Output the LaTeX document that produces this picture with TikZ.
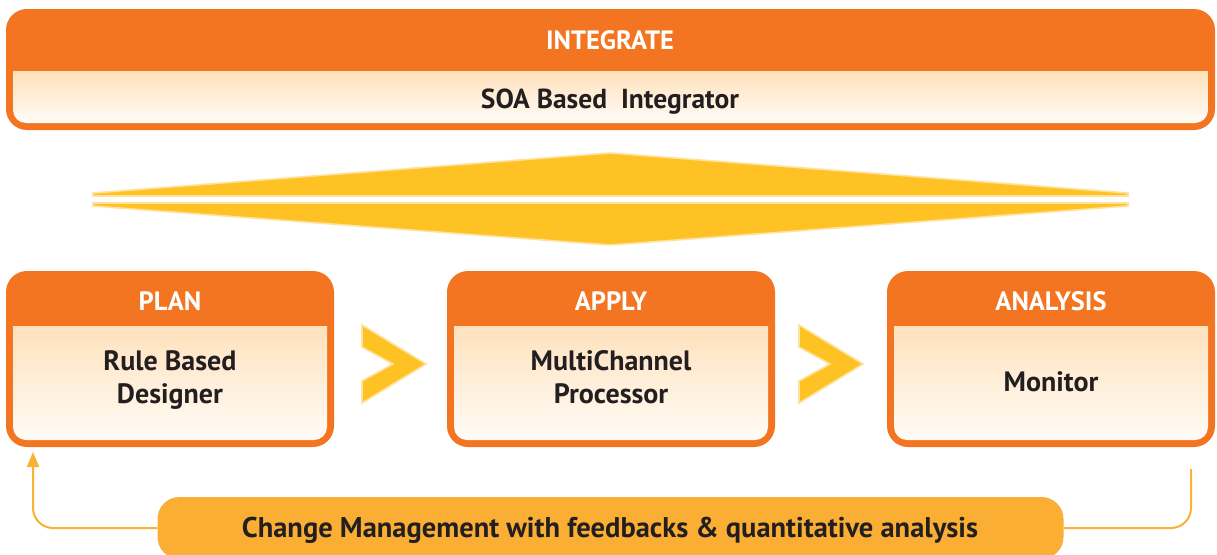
\documentclass[tikz,border=0pt]{standalone}
\usepackage{fontspec}
\setmainfont{PT Sans}
\usetikzlibrary{arrows.meta}
\definecolor{boxorange}{HTML}{F37521}
\definecolor{paletop}{HTML}{FFE1BC}
\definecolor{palebot}{HTML}{FFFCF7}
\definecolor{chevfill}{HTML}{FFC224}
\definecolor{chevedge}{HTML}{FFE39C}
\definecolor{barfill}{HTML}{FAAF34}
\definecolor{inkdark}{HTML}{231F20}
\definecolor{loopline}{HTML}{F9B233}

\tikzset{
  headtext/.style={text=white,font=\bfseries\fontsize{26.5}{30}\selectfont,anchor=base,inner sep=0pt},
  bodytext/.style={text=inkdark,font=\bfseries\fontsize{28}{33}\selectfont,align=center,anchor=base,inner sep=0pt},
  bartext/.style={text=inkdark,font=\bfseries\fontsize{28.5}{30}\selectfont,anchor=base,inner sep=0pt},
  chevron/.style={fill=chevfill,draw=chevedge,line width=1.6pt,line join=miter},
  feedback/.style={draw=loopline,line width=2pt,rounded corners=20pt},
  barbox/.style={fill=barfill,rounded corners=22pt,minimum width=906pt,minimum height=62pt,inner sep=0pt},
}

% orange framed panel: left, top, right, header bottom, bottom
\newcommand\drawpanel[5]{%
  \fill[boxorange,rounded corners=21pt] (#1,#2) rectangle (#3,#5);
  \shade[top color=paletop,bottom color=palebot]
    ({#1+7},#4) -- ({#3-7},#4) -- ({#3-7},{#5-20}) arc[start angle=0,end angle=90,radius=13]
    -- ({#1+20},{#5-7}) arc[start angle=90,end angle=180,radius=13] -- cycle;
}

\begin{document}
\begin{tikzpicture}[x=1pt,y=-1pt]
\clip (0,0) rectangle (1217,554);
\fill[white] (0,0) rectangle (1217,554);

% integration layer
\drawpanel{6}{9}{1215}{71}{130}
\node[headtext] (integrate) at (610,49) {INTEGRATE};
\node[headtext,text=inkdark,font=\bfseries\fontsize{27.5}{30}\selectfont] (soa) at (610,108) {SOA Based\ \ Integrator};

% two-way exchange between the layers
\draw[chevron] (93,196) -- (93,193) -- (610,153) -- (1128,193) -- (1128,196) -- cycle;
\draw[chevron] (93,203) -- (93,206) -- (610,245) -- (1128,206) -- (1128,203) -- cycle;

% process stages
\drawpanel{6}{271}{334}{326}{447}
\drawpanel{447}{271}{775}{326}{447}
\drawpanel{887}{271}{1215}{326}{447}

\node[headtext] (plan) at (170,310) {PLAN};
\node[headtext] (apply) at (611,310) {APPLY};
\node[headtext] (analysis) at (1051,310) {ANALYSIS};

\node[bodytext] (designer) at (170,403) {Rule Based\\Designer};
\node[bodytext] (processor) at (611,403) {MultiChannel\\Processor};
\node[bodytext] (monitor) at (1051,391) {Monitor};

\draw[chevron] (362,325) -- (426,364) -- (362,403) -- (362,381) -- (393,364) -- (362,347) -- cycle;
\draw[chevron] (799,325) -- (863,364) -- (799,403) -- (799,381) -- (830,364) -- (799,347) -- cycle;

% change management loop
\node[barbox] (bar) at (610.5,528) {};
\node[bartext] (cm) at (610,537) {Change Management with feedbacks \& quantitative analysis};

\coordinate (plantip) at (33,452);
\coordinate (monend) at (1191,469);
\draw[feedback,-{Triangle[width=12pt,length=15pt]}] (bar.west) -- (plantip |- bar.west) -- (plantip);
\draw[feedback] (bar.east) -- (monend |- bar.east) -- (monend);
\end{tikzpicture}
\end{document}
